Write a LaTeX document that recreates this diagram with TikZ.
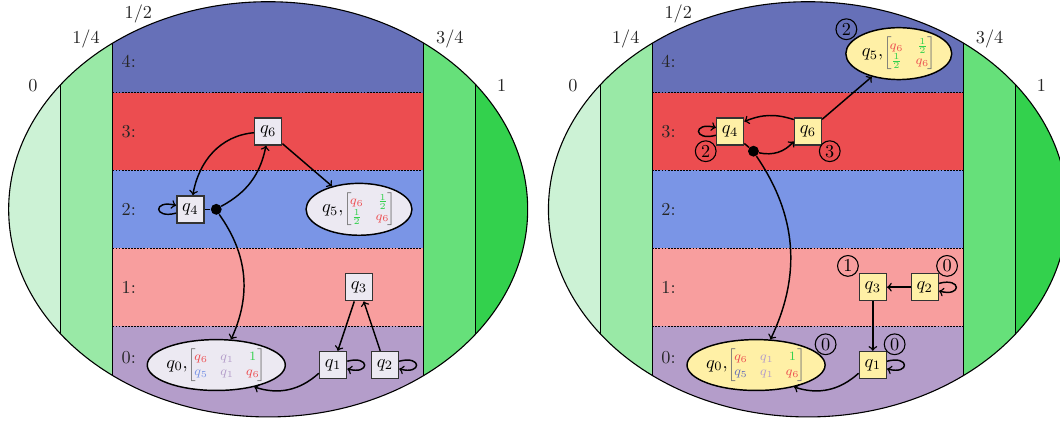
\documentclass[tikz,border=0pt]{standalone}
\usetikzlibrary{shapes.geometric}

% level colours (bands) and value colours (side strips)
\definecolor{lvA}{RGB}{180,157,202}
\definecolor{lvB}{RGB}{248,158,158}
\definecolor{lvC}{RGB}{122,149,230}
\definecolor{lvD}{RGB}{236,77,80}
\definecolor{lvE}{RGB}{102,112,184}
\definecolor{stA}{RGB}{204,242,213}
\definecolor{stB}{RGB}{153,233,166}
\definecolor{stC}{RGB}{102,224,122}
\definecolor{stD}{RGB}{51,209,77}
\definecolor{nodeL}{RGB}{236,233,242}
\definecolor{nodeR}{RGB}{255,240,166}

\tikzset{
  statebox/.style={rectangle, draw=black!80, thick, minimum size=0.52cm, inner sep=1pt},
  stateell/.style={ellipse, draw=black, thick, inner sep=0pt},
  dotnode/.style={circle, fill=black, inner sep=0pt, minimum size=0.21cm},
  arr/.style={->, thick},
  link/.style={thick},
  circnum/.style={circle, draw=black, semithick, inner sep=0pt, minimum size=0.4cm},
  frac/.style={text=black!85},
  lvlabel/.style={anchor=west, inner sep=0pt, text=black!85},
  bandline/.style={line width=0.5pt, dash pattern=on 1pt off 0.7pt},
  every loop/.style={min distance=4.3mm},
}

% small coloured matrix
\newcommand\mtx[2]{{\scriptsize$\color{black!55}\left[\kern-1.2pt\setlength\arraycolsep{3.3pt}\begin{array}{@{}#1@{}}#2\end{array}\kern-1.2pt\right]$}}

% background: ellipse split into value strips and level bands
\newcommand\panelbg[1]{%
  \begin{scope}
    \clip (0,0) ellipse (5 and 4);
    \fill[stA] (-5,-4) rectangle (-4,4);
    \fill[stB] (-4,-4) rectangle (-3,4);
    \fill[stC] (3,-4) rectangle (4,4);
    \fill[stD] (4,-4) rectangle (5,4);
    \fill[lvE] (-3,2.25) rectangle (3,4);
    \fill[lvD] (-3,0.75) rectangle (3,2.25);
    \fill[lvC] (-3,-0.75) rectangle (3,0.75);
    \fill[lvB] (-3,-2.25) rectangle (3,-0.75);
    \fill[lvA] (-3,-4) rectangle (3,-2.25);
    \foreach \yy in {2.25,0.75,-0.75,-2.25}
      \draw[bandline] (-3,\yy) -- (3,\yy);
    \foreach \xx in {-4,-3,3,4}
      \draw[semithick] (\xx,-4) -- (\xx,4);
  \end{scope}
  \draw[semithick] (0,0) ellipse (5 and 4);
  \node[frac] (#1v0) at (-4.53,2.39) {0};
  \node[frac] (#1v1) at (-3.51,3.28) {1/4};
  \node[frac] (#1v2) at (-2.50,3.76) {1/2};
  \node[frac] (#1v3) at (3.50,3.28) {3/4};
  \node[frac] (#1v4) at (4.50,2.39) {1};
  \node[lvlabel] (#1l4) at (-2.83,2.85) {4:};
  \node[lvlabel] (#1l3) at (-2.83,1.5) {3:};
  \node[lvlabel] (#1l2) at (-2.83,0) {2:};
  \node[lvlabel] (#1l1) at (-2.83,-1.5) {1:};
  \node[lvlabel] (#1l0) at (-2.83,-2.85) {0:};
}

\begin{document}
\begin{tikzpicture}
\useasboundingbox (-5.167,-4.079) rectangle (15.256,4.033);
\clip (-5.167,-4.079) rectangle (15.256,4.033);

% ---------------- first game graph ----------------
\panelbg{l}
\node[statebox, fill=nodeL] (lq6) at (0,1.5) {$q_6$};
\node[statebox, fill=nodeL] (lq4) at (-1.5,0) {$q_4$};
\node[dotnode] (ldot) at (-1,0) {};
\node[stateell, fill=nodeL, minimum width=2.04cm, minimum height=1cm] (lq5) at (1.75,0)
  {\makebox[0pt]{$q_5,$\mtx{cc}{\color{lvD}q_6 & \color{stD}\frac12\\ \color{stD}\frac12 & \color{lvD}q_6}}};
\node[statebox, fill=nodeL] (lq3) at (1.75,-1.5) {$q_3$};
\node[stateell, fill=nodeL, minimum width=2.66cm, minimum height=0.98cm] (lq0) at (-1,-3)
  {\makebox[0pt]{$q_0,$\mtx{ccc}{\color{lvD}q_6 & \color{lvA}q_1 & \color{stD}1\\ \color{lvC}q_5 & \color{lvA}q_1 & \color{lvD}q_6}}};
\node[statebox, fill=nodeL] (lq1) at (1.25,-3) {$q_1$};
\node[statebox, fill=nodeL] (lq2) at (2.25,-3) {$q_2$};

\path (lq4) edge[arr, loop left] ();
\draw[link] (lq4) -- (ldot);
\draw[arr] (lq6) to[out=185, in=80] (lq4);
\draw[arr] (ldot) to[bend right=25] (lq6);
\draw[arr] (ldot) to[bend left=30] (lq0);
\draw[arr] (lq6) -- (lq5);
\draw[arr] (lq3) -- (lq1);
\draw[arr] (lq2) -- (lq3);
\draw[arr] (lq1) to[bend left=30] (lq0);
\path (lq1) edge[arr, loop right] ();
\path (lq2) edge[arr, loop right] ();

% ---------------- second game graph ----------------
\begin{scope}[xshift=10.4cm]
\panelbg{r}
\node[statebox, fill=nodeR] (rq4) at (-1.5,1.5) {$q_4$};
\node[statebox, fill=nodeR] (rq6) at (0,1.5) {$q_6$};
\node[dotnode] (rdot) at (-1.05,1.12) {};
\node[stateell, fill=nodeR, minimum width=2.04cm, minimum height=1cm] (rq5) at (1.75,3)
  {\makebox[0pt]{$q_5,$\mtx{cc}{\color{lvD}q_6 & \color{stD}\frac12\\ \color{stD}\frac12 & \color{lvD}q_6}}};
\node[statebox, fill=nodeR] (rq3) at (1.25,-1.5) {$q_3$};
\node[statebox, fill=nodeR] (rq2) at (2.25,-1.5) {$q_2$};
\node[statebox, fill=nodeR] (rq1) at (1.25,-3) {$q_1$};
\node[stateell, fill=nodeR, minimum width=2.66cm, minimum height=0.98cm] (rq0) at (-1,-3)
  {\makebox[0pt]{$q_0,$\mtx{ccc}{\color{lvD}q_6 & \color{lvA}q_1 & \color{stD}1\\ \color{lvE}q_5 & \color{lvA}q_1 & \color{lvD}q_6}}};

\path (rq4) edge[arr, loop left] ();
\draw[link] (rq4) -- (rdot);
\draw[arr] (rq6.140) to[bend right=20] (rq4.35);
\draw[arr] (rdot) to[bend right=30] (rq6.215);
\draw[arr] (rdot) to[bend left=30] (rq0);
\draw[arr] (rq6) -- (rq5);
\draw[arr] (rq2) -- (rq3);
\draw[arr] (rq3) -- (rq1);
\draw[arr] (rq1) to[bend left=30] (rq0);
\path (rq2) edge[arr, loop right] ();
\path (rq1) edge[arr, loop right] ();

\node[circnum] (rc5) at (0.74,3.47) {2};
\node[circnum] (rc4) at (-1.97,1.12) {2};
\node[circnum] (rc6) at (0.42,1.12) {3};
\node[circnum] (rc3) at (0.77,-1.09) {1};
\node[circnum] (rc2) at (2.68,-1.09) {0};
\node[circnum] (rc1) at (1.67,-2.6) {0};
\node[circnum] (rc0) at (0.34,-2.6) {0};
\end{scope}
\end{tikzpicture}
\end{document}
